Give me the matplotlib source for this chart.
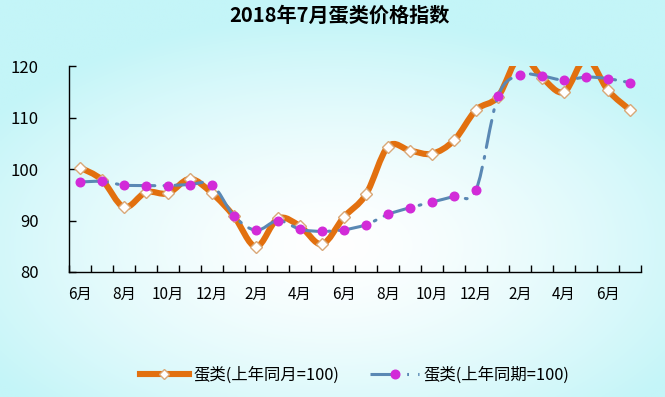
import numpy as np
import matplotlib
matplotlib.use('Agg')
import matplotlib.pyplot as plt
from matplotlib.path import Path
from matplotlib.patches import PathPatch
from matplotlib.lines import Line2D

plt.rcParams['font.family'] = ['Noto Sans CJK SC', 'DejaVu Sans']

# 2016年6月 ... 2018年7月, 26 months
months = ['6月', '7月', '8月', '9月', '10月', '11月', '12月', '1月', '2月', '3月', '4月', '5月',
          '6月', '7月', '8月', '9月', '10月', '11月', '12月', '1月', '2月', '3月', '4月', '5月',
          '6月', '7月']
same_month = [100.3, 97.9, 92.6, 95.5, 95.3, 98.1, 95.3, 90.8, 84.9, 90.4, 88.9, 85.4,
              90.7, 95.1, 104.4, 103.6, 103.0, 105.6, 111.5, 114.1, 122.0, 117.8, 115.0, 121.5,
              115.3, 111.5]
same_period = [97.5, 97.6, 96.9, 96.8, 96.8, 97.0, 97.0, 90.9, 88.1, 90.0, 88.3, 87.9,
               88.2, 89.2, 91.2, 92.5, 93.6, 94.7, 96.0, 114.2, 118.3, 118.1, 117.3, 117.9,
               117.6, 116.8]
label_a = '蛋类(上年同月=100)'
label_b = '蛋类(上年同期=100)'

ORANGE = '#E2700F'
BLUE = '#5A88B4'
MAGENTA = '#D22BD8'
BLUE_DASH = (0, (9, 3, 0.6, 3))


def smooth_path(xs, ys, t=1/6):
    # excel-like smoothed line as bezier segments
    pts = np.column_stack([xs, ys]).astype(float)
    n = len(pts)
    verts = [pts[0]]
    codes = [Path.MOVETO]
    for i in range(n - 1):
        p0 = pts[i - 1] if i > 0 else pts[i]
        p1 = pts[i]
        p2 = pts[i + 1]
        p3 = pts[i + 2] if i + 2 < n else pts[i + 1]
        verts += [p1 + (p2 - p0) * t, p2 - (p3 - p1) * t, p2]
        codes += [Path.CURVE4] * 3
    return Path(verts, codes)


fig = plt.figure(figsize=(6.65, 3.97), dpi=100)

# background gradient
bg = fig.add_axes([0, 0, 1, 1], zorder=-5)
gx, gy = np.meshgrid(np.linspace(0, 1, 300), np.linspace(0, 1, 200))
r = np.sqrt(((gx - 0.5) / 0.62) ** 2 + ((gy - 0.62) / 0.58) ** 2)
r = np.clip(r, 0, 1) ** 1.4
c0 = np.array([1.0, 1.0, 1.0])
c1 = np.array([0xC4, 0xF5, 0xF8]) / 255
img = c0 + (c1 - c0) * r[..., None]
bg.imshow(img, extent=[0, 1, 0, 1], aspect='auto', origin='upper')
bg.axis('off')

ax = fig.add_axes([0.1038, 0.315, 0.8602, 0.518])
ax.set_facecolor('none')
x = np.arange(len(months))

ax.add_patch(PathPatch(smooth_path(x, same_month), fill=False, edgecolor=ORANGE,
                       linewidth=4.4, capstyle='round', joinstyle='round', zorder=2))
ax.plot(x, same_month, linestyle='none', marker='D', markersize=6.5,
        markerfacecolor='white', markeredgecolor='#D9A878', markeredgewidth=1, zorder=3)
ax.add_patch(PathPatch(smooth_path(x, same_period), fill=False, edgecolor=BLUE,
                       linewidth=2.2, linestyle=BLUE_DASH, capstyle='round', zorder=4))
ax.plot(x, same_period, linestyle='none', marker='o', markersize=6.2,
        markerfacecolor=MAGENTA, markeredgecolor=MAGENTA, zorder=5)

ax.set_xlim(-0.5, len(months) - 0.5)
ax.set_ylim(80, 120)
ax.set_yticks([80, 90, 100, 110, 120])
ax.set_xticks(np.arange(-0.5, len(months), 1), minor=False)
ax.set_xticklabels([])
ax.set_xticks(x[::2], minor=True)
ax.set_xticklabels(months[::2], minor=True)
ax.tick_params(axis='x', which='major', direction='in', length=5, width=1)
ax.tick_params(axis='x', which='minor', length=0, pad=10, labelsize=11)
ax.tick_params(axis='y', direction='in', length=5, width=1, labelsize=12, pad=22)
for s in ['top', 'right']:
    ax.spines[s].set_visible(False)
for s in ['left', 'bottom']:
    ax.spines[s].set_linewidth(1)

fig.text(0.51, 0.962, '2018年7月蛋类价格指数', ha='center', va='center',
         fontsize=14.5, fontweight='bold')

h1 = Line2D([], [], color=ORANGE, linewidth=4.4, marker='D', markersize=5,
            markerfacecolor='white', markeredgecolor='#D9A878')
h2 = Line2D([], [], color=BLUE, linewidth=2.2, linestyle=BLUE_DASH, marker='o',
            markersize=6.2, markerfacecolor=MAGENTA, markeredgecolor=MAGENTA)
fig.legend([h1, h2], [label_a, label_b], loc='center', bbox_to_anchor=(0.533, 0.055),
           ncol=2, frameon=False, fontsize=11.8, handlelength=3.0, handletextpad=0.25,
           columnspacing=1.9)

fig.savefig('out.png', dpi=100)
